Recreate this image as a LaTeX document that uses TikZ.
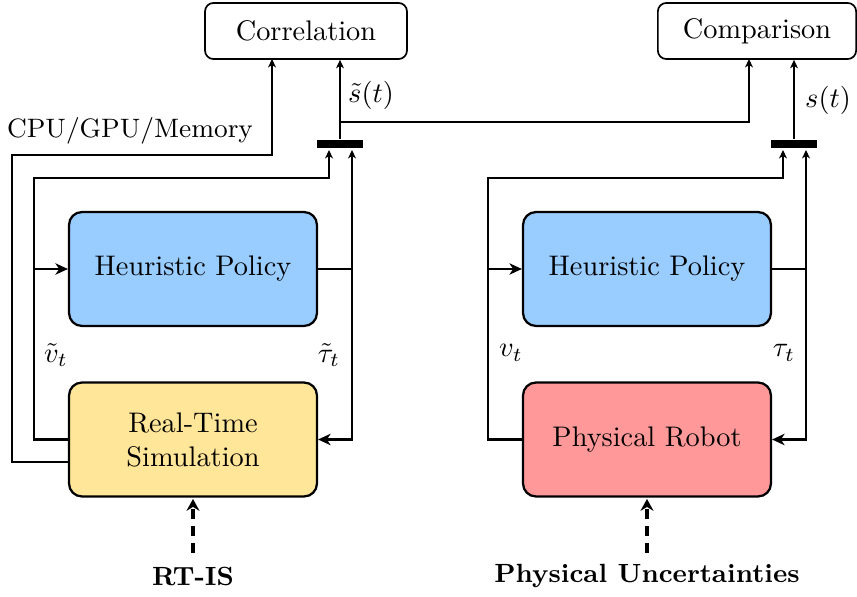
\documentclass[tikz,border=0pt]{standalone}
\usetikzlibrary{arrows.meta}
\definecolor{policyblue}{RGB}{153,204,255}
\definecolor{simyellow}{RGB}{255,230,153}
\definecolor{robotred}{RGB}{255,153,153}
\begin{document}
\begin{tikzpicture}[x=0.353pt,y=-0.353pt,
  box/.style={draw,line width=0.8pt,rounded corners=4.5pt,minimum width=87.5pt,
    minimum height=40.2pt,inner sep=0pt,align=center},
  topbox/.style={draw,line width=0.6pt,rounded corners=3pt,minimum height=19.8pt,inner sep=0pt},
  bar/.style={fill=black,minimum width=16.2pt,minimum height=2.8pt,inner sep=0pt},
  lbl/.style={inner sep=0pt},
  srclbl/.style={inner sep=0pt,font=\fontsize{9.3}{11}\selectfont\bfseries},
  flow/.style={line width=0.8pt,-{Stealth[length=4.4pt,width=4pt,inset=1.3pt]}},
  flowline/.style={line width=0.8pt},
  sig/.style={line width=0.4pt,-{Stealth[length=3pt,width=2.8pt,inset=0.9pt]}},
  dist/.style={line width=1.3pt,dash pattern=on 3.5pt off 2.5pt,
    -{Stealth[length=4.2pt,width=4.6pt,inset=1.4pt]},shorten >=0.5pt}]
\useasboundingbox (0,0) rectangle (857,597);

% evaluation blocks
\node[topbox,minimum width=71.3pt] (corr) at (306,31) {Correlation};
\node[topbox,minimum width=70pt] (comp) at (757,31) {Comparison};

% simulated loop
\node[box,fill=policyblue] (hpL) at (193,269) {Heuristic Policy};
\node[box,fill=simyellow] (sim) at (193,439.5) {Real-Time\\Simulation};
% physical loop
\node[box,fill=policyblue] (hpR) at (647,269) {Heuristic Policy};
\node[box,fill=robotred] (rob) at (647,439.5) {Physical Robot};

% state aggregation bars
\node[bar] (barL) at (340,144) {};
\node[bar] (barR) at (794,144) {};

% helper coordinates
\coordinate (vL) at (34,269);
\coordinate (tL) at (352,269);
\coordinate (vR) at (488,269);
\coordinate (tR) at (806,269);
\coordinate (vLin) at (329,150);
\coordinate (tLin) at (352,150);
\coordinate (vRin) at (783,150);
\coordinate (tRin) at (806,150);
\coordinate (cpuA) at (12,462);
\coordinate (cpuB) at (12,155);
\coordinate (corrIn) at (272,59);
\coordinate (split) at (340,122);
\coordinate (compIn) at (749,59);
\coordinate (rtis) at (193,553);
\coordinate (phys) at (647,553);

% simulated feedback loop
\draw[flow] (sim.west) -| (vL) -- (hpL.west);
\draw[flowline] (hpL.east) -- (tL);
\draw[flow] (tL) |- (sim.east);
\draw[sig] (vL) |- (34,178) -| (vLin);
\draw[sig] (tL) -- (tLin);

% physical feedback loop
\draw[flow] (rob.west) -| (vR) -- (hpR.west);
\draw[flowline] (hpR.east) -- (tR);
\draw[flow] (tR) |- (rob.east);
\draw[sig] (vR) |- (488,178) -| (vRin);
\draw[sig] (tR) -- (tRin);

% resource usage to correlation
\draw[sig] (sim.west |- cpuA) -- (cpuA) -- (cpuB) -| (corrIn);

% state trajectories
\draw[sig] (barL.north) -- (corr.south -| barL.north);
\draw[sig] (split) -| (compIn);
\draw[sig] (barR.north) -- (comp.south -| barR.north);

% signal labels
\node[lbl,font=\fontsize{9.4}{11}\selectfont] at (130,131) {CPU/GPU/Memory};
\node[lbl] at (371,95) {$\tilde{s}(t)$};
\node[lbl] at (828,100) {$s(t)$};
\node[lbl] at (56,355) {$\tilde{v}_t$};
\node[lbl] at (329,355) {$\tilde{\tau}_t$};
\node[lbl] at (511,353) {$v_t$};
\node[lbl] at (784,353) {$\tau_t$};

% external influences
\draw[dist] (rtis) -- (sim.south);
\draw[dist] (phys) -- (rob.south);
\node[srclbl] at (193,576) {RT-IS};
\node[srclbl] at (647,576) {Physical Uncertainties};
\end{tikzpicture}
\end{document}
